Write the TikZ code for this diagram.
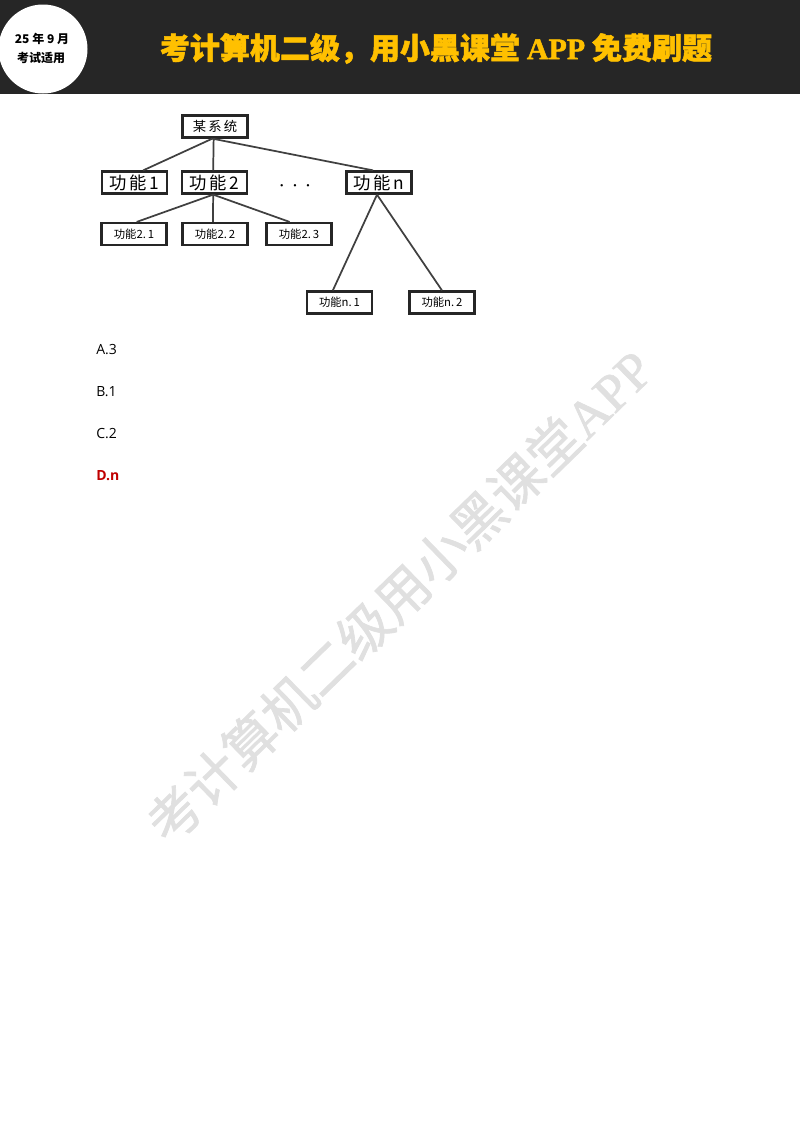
\documentclass[tikz,border=0pt]{standalone}
\usepackage{fontspec}
\setmainfont{Open Sans}
\newfontfamily\cjk{Noto Sans CJK SC}
\newfontfamily\cjkheavy[BoldFeatures={FakeBold=1.6}]{Noto Sans CJK SC}
\newfontfamily\cjkmark[FakeBold=1.2]{Noto Sans CJK SC}
\newfontfamily\titlelatin[FakeBold=1.2]{Liberation Serif}
\newfontfamily\titleheavy[BoldFeatures={FakeBold=1.6}]{Liberation Serif}
\definecolor{headbar}{HTML}{262626}
\definecolor{titlegold}{HTML}{FFC000}
\definecolor{answerred}{HTML}{C00000}
\definecolor{markgray}{HTML}{E0E0E0}
\tikzset{
  sysbox/.style={draw=black!85,line width=1.7pt,fill=white,minimum width=48.75pt,minimum height=16.5pt,inner sep=0pt,font=\cjk\fontsize{13}{13}\selectfont},
  subbox/.style={sysbox,line width=1.6pt,font=\cjk\fontsize{8.5}{9}\selectfont},
  topbox/.style={sysbox,font=\cjk\fontsize{10}{10}\selectfont},
  tieline/.style={draw=black!75,line width=1.3pt},
  choice/.style={right,inner sep=0pt,font=\fontsize{10.5}{12}\selectfont}
}
\begin{document}
\begin{tikzpicture}[x=0.75pt,y=-0.75pt]
%\draw[step=100,gray](0,0) grid (800,1132);
\useasboundingbox (0,0) rectangle (800,1132);
\fill[white] (0,0) rectangle (800,1132);
% watermark
\node[rotate=44.2,text=markgray,inner sep=0pt,font=\cjkmark\fontsize{39.7}{40}\selectfont] (mark) at (399,596) {考计算机二级用小黑课堂{\titlelatin APP}};
% header
\fill[headbar] (0,0) rectangle (800,94);
\begin{scope}
\clip (0,0) rectangle (800,94);
\fill[white] (43,49) circle (44.5);
\end{scope}
\node[inner sep=0pt,font=\cjk\bfseries\fontsize{9}{9}\selectfont] (year) at (42,39) {25 年 9 月};
\node[inner sep=0pt,font=\cjk\bfseries\fontsize{9}{9}\selectfont] (exam) at (41,58) {考试适用};
\node[inner sep=0pt,text=titlegold,font=\cjkheavy\bfseries\fontsize{22.5}{24}\selectfont] (title) at (436,48.5) {考计算机二级，用小黑课堂 {\titleheavy APP} 免费刷题};
% tree
\node[topbox] (root) at (215,126.5) {某\,系\,统};
\node[sysbox] (f1) at (134.5,182.5) {功\,能\,1};
\node[sysbox] (f2) at (214.5,182.5) {功\,能\,2};
\node[sysbox] (fn) at (379,182.5) {功\,能\,n};
\node[subbox] (f21) at (134,234) {功能2.\,1};
\node[subbox] (f22) at (215,234) {功能2.\,2};
\node[subbox] (f23) at (299,234) {功能2.\,3};
\node[subbox] (fn1) at (339.5,302.5) {功能n.\,1};
\node[subbox] (fn2) at (442,302.5) {功能n.\,2};
\node[inner sep=0pt,font=\fontsize{16}{16}\selectfont] (dots) at (295,186) {$\cdot$\hspace{5pt}$\cdot$\hspace{5pt}$\cdot$};
\draw[tieline] ([xshift=-2pt]root.south) -- ([xshift=6.5pt]f1.north);
\draw[tieline] ([xshift=-1pt]root.south) -- ([xshift=-1pt]f2.north);
\draw[tieline] ([xshift=-2pt]root.south) -- ([xshift=-4.5pt]fn.north);
\draw[tieline] ([xshift=-1pt]f2.south) -- ([xshift=2pt]f21.north);
\draw[tieline] ([xshift=-1pt]f2.south) -- ([xshift=-1.5pt]f22.north);
\draw[tieline] ([xshift=-1pt]f2.south) -- ([xshift=-7pt]f23.north);
\draw[tieline] ([xshift=-1.5pt]fn.south) -- ([xshift=-5pt]fn1.north);
\draw[tieline] ([xshift=-1.5pt]fn.south) -- (fn2.north);
% choices
\node[choice] (a) at (96,350) {A.3};
\node[choice] (b) at (96,392) {B.1};
\node[choice] (c) at (96,434) {C.2};
\node[choice,text=answerred,font=\bfseries\fontsize{10.5}{12}\selectfont] (d) at (96,476) {D.n};
\end{tikzpicture}
\end{document}
